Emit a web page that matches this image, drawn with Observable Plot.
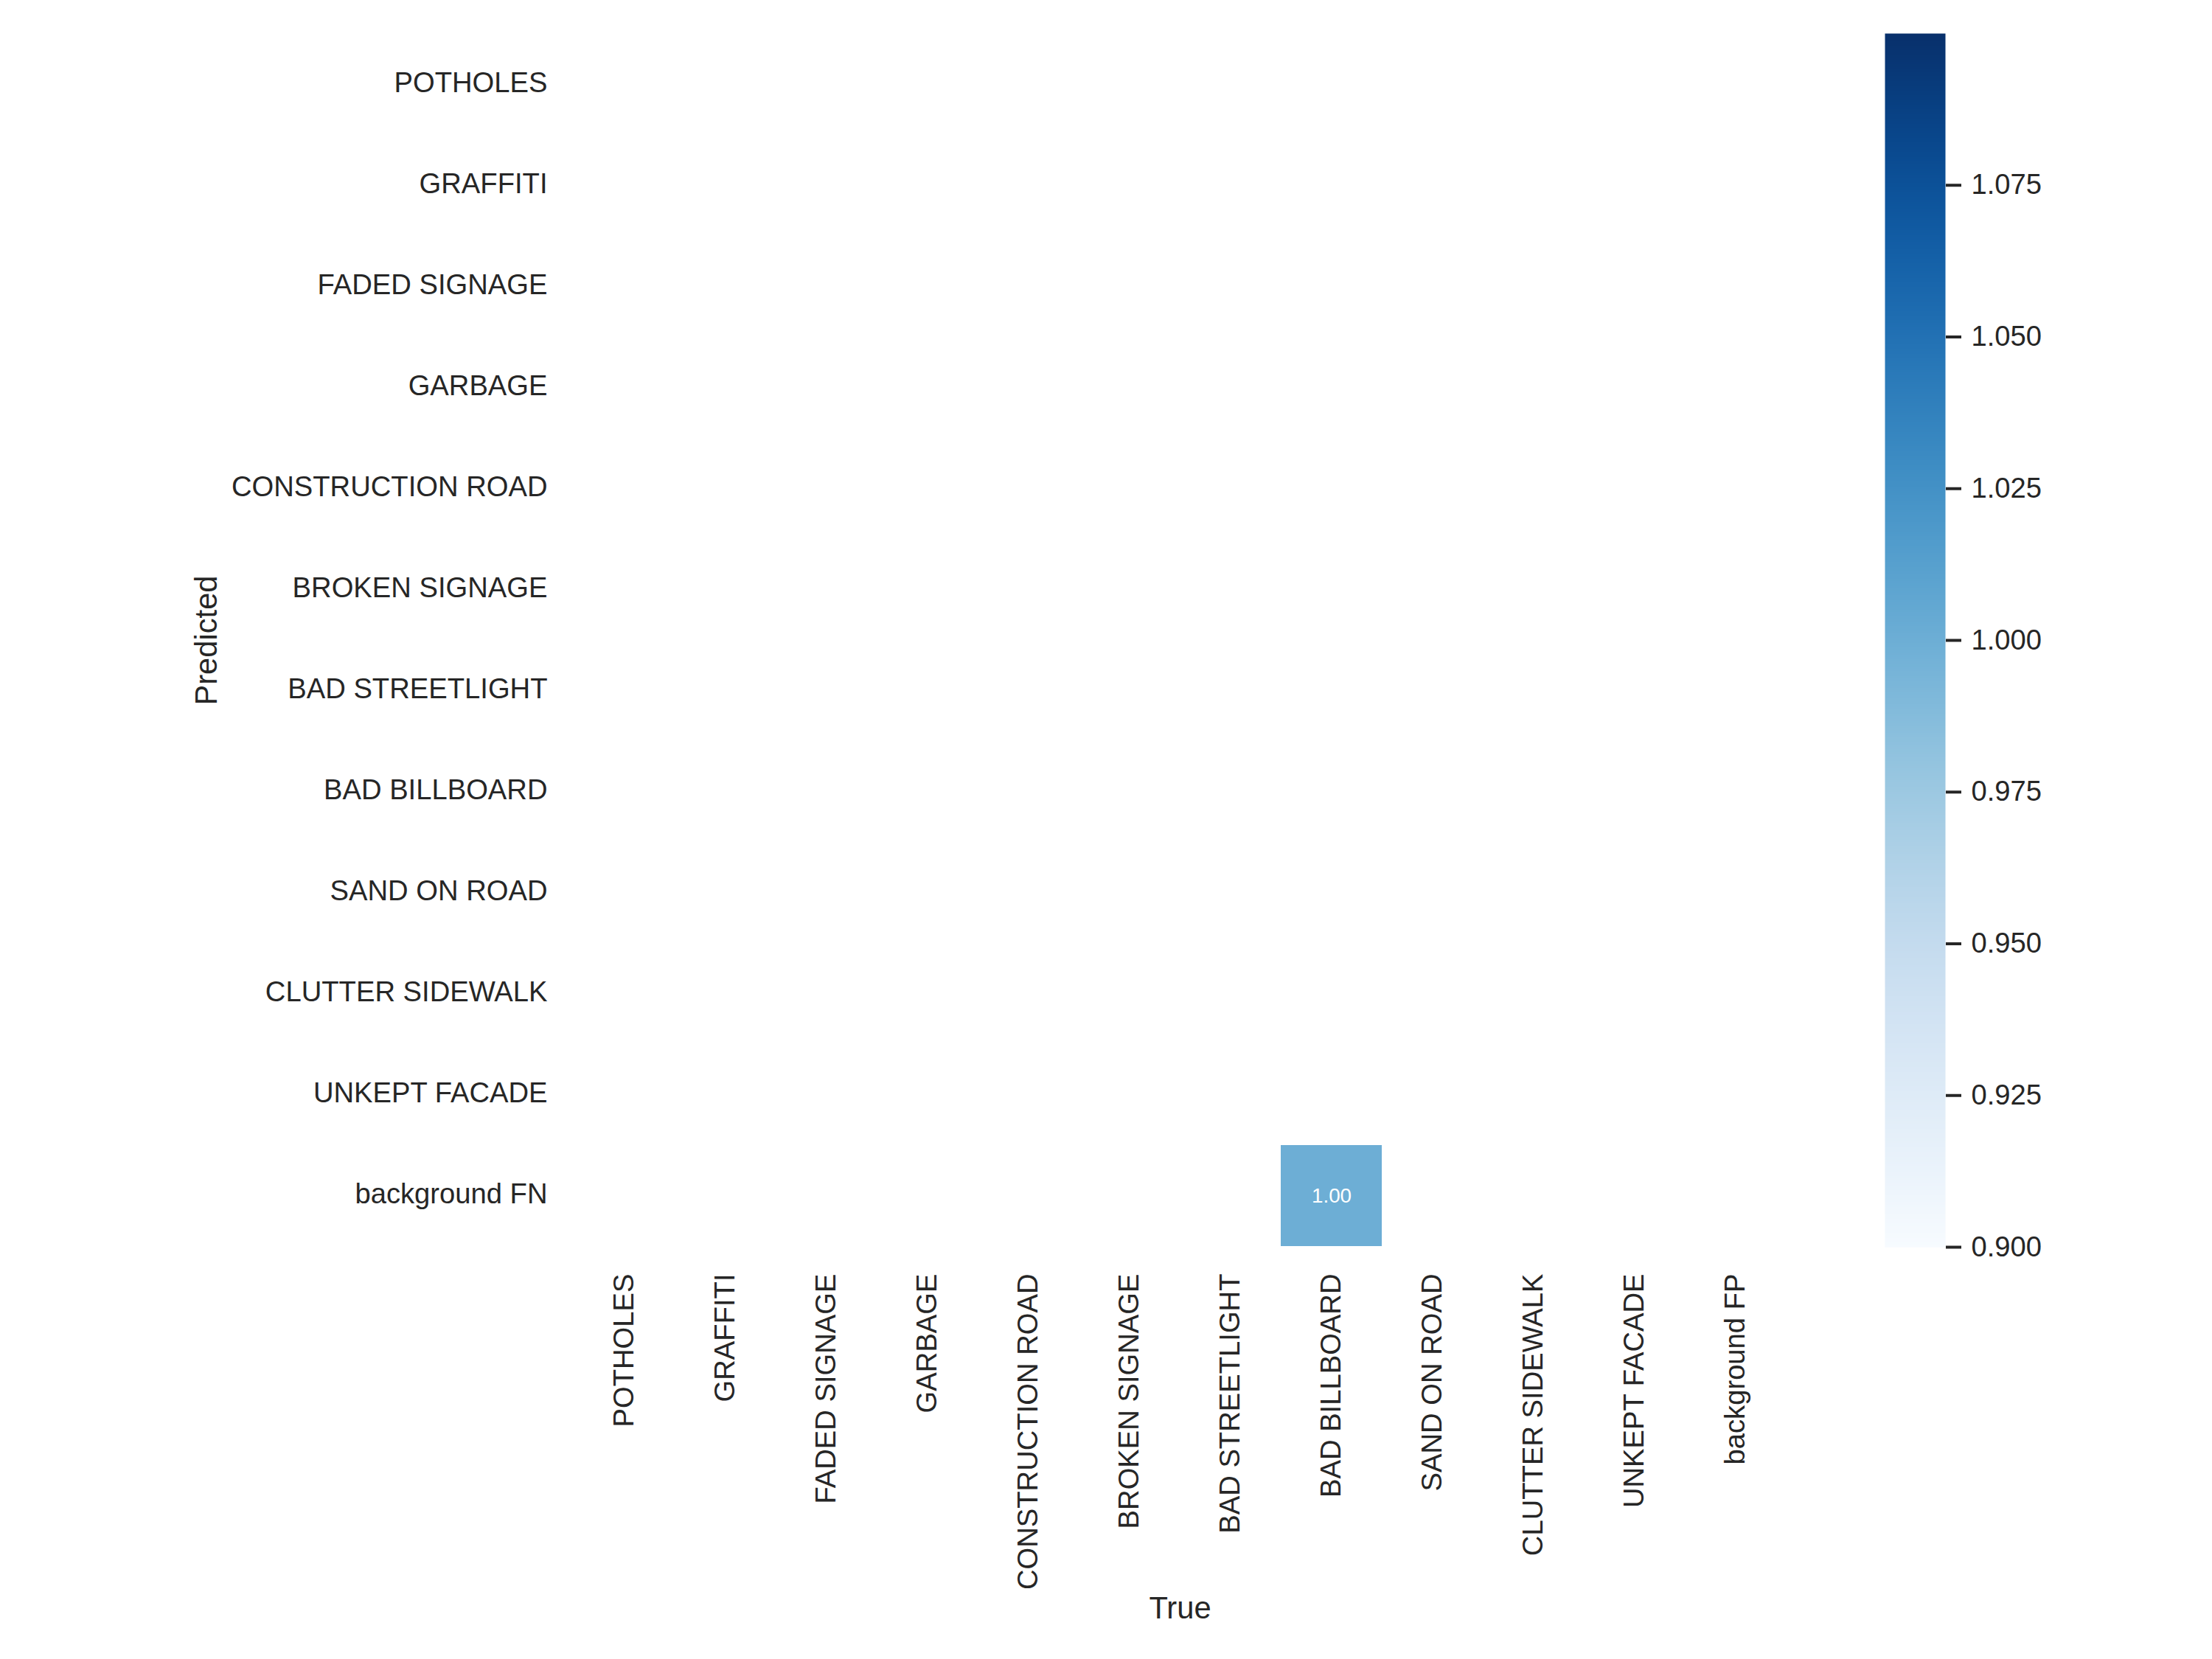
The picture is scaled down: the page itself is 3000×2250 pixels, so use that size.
<!DOCTYPE html>
<html>
<head>
<meta charset="utf-8">
<script src="https://cdn.jsdelivr.net/npm/d3@7"></script>
<script src="https://cdn.jsdelivr.net/npm/@observablehq/plot@0.6"></script>
<style>
  html, body { margin: 0; padding: 0; background: #ffffff; }
  #chart { position: relative; width: 3000px; height: 2250px; background: #ffffff; }
  #chart svg { position: absolute; left: 0; top: 0; }
</style>
</head>
<body>
<div id="chart"></div>
<script>
// ---- data ----
const trueLabels = ["POTHOLES", "GRAFFITI", "FADED SIGNAGE", "GARBAGE", "CONSTRUCTION ROAD", "BROKEN SIGNAGE", "BAD STREETLIGHT", "BAD BILLBOARD", "SAND ON ROAD", "CLUTTER SIDEWALK", "UNKEPT FACADE", "background FP"];
const predictedLabels = ["POTHOLES", "GRAFFITI", "FADED SIGNAGE", "GARBAGE", "CONSTRUCTION ROAD", "BROKEN SIGNAGE", "BAD STREETLIGHT", "BAD BILLBOARD", "SAND ON ROAD", "CLUTTER SIDEWALK", "UNKEPT FACADE", "background FN"];
// rows = predicted, columns = true
const matrix = [
  [0,0,0,0,0,0,0,0,0,0,0,0],
  [0,0,0,0,0,0,0,0,0,0,0,0],
  [0,0,0,0,0,0,0,0,0,0,0,0],
  [0,0,0,0,0,0,0,0,0,0,0,0],
  [0,0,0,0,0,0,0,0,0,0,0,0],
  [0,0,0,0,0,0,0,0,0,0,0,0],
  [0,0,0,0,0,0,0,0,0,0,0,0],
  [0,0,0,0,0,0,0,0,0,0,0,0],
  [0,0,0,0,0,0,0,0,0,0,0,0],
  [0,0,0,0,0,0,0,0,0,0,0,0],
  [0,0,0,0,0,0,0,0,0,0,0,0],
  [0,0,0,0,0,0,0,1.00,0,0,0,0]
];
const colorDomain = [0.9, 1.1];
const colorbarTicks = [0.900, 0.925, 0.950, 0.975, 1.000, 1.025, 1.050, 1.075];

// ---- table (zeros are masked, as in the original) ----
const cells = [];
predictedLabels.forEach((p, i) => {
  trueLabels.forEach((t, j) => {
    const v = matrix[i][j];
    if (v >= 0.005) cells.push({ predicted: p, true: t, value: v });
  });
});

const font = "'Liberation Sans', Arial, Helvetica, sans-serif";
const textColor = "#262626";
const W = 3000, H = 2250;
const frame = { left: 777, right: 2423, top: 45, bottom: 1691 };

const heat = Plot.plot({
  width: W,
  height: H,
  marginLeft: frame.left,
  marginRight: W - frame.right,
  marginTop: frame.top,
  marginBottom: H - frame.bottom,
  style: { fontFamily: font, fontSize: "38.2px", color: textColor, background: "transparent", overflow: "visible" },
  x: { domain: trueLabels, padding: 0, label: null },
  y: { domain: predictedLabels, padding: 0, label: null },
  color: { type: "linear", scheme: "blues", domain: colorDomain },
  marks: [
    Plot.cell(cells, { x: "true", y: "predicted", fill: "value" }),
    Plot.text(cells, { x: "true", y: "predicted", text: d => d3.format(".2f")(d.value), fill: "white", fontSize: 27.8 }),
    Plot.axisX({ anchor: "bottom", tickSize: 0, tickPadding: 36, tickRotate: -90, label: null, fontSize: 38.2 }),
    Plot.axisY({ anchor: "left", tickSize: 0, tickPadding: 35, label: null, fontSize: 38.2, dy: -2 }),
    Plot.text(["Predicted"], { frameAnchor: "left", dx: 280 - frame.left, rotate: -90, textAnchor: "middle", lineAnchor: "middle", fontSize: 41.7, fill: textColor }),
    Plot.text(["True"], { frameAnchor: "bottom", dy: 2181 - frame.bottom, textAnchor: "middle", lineAnchor: "middle", fontSize: 41.7, fill: textColor })
  ]
});

const cbar = { left: 2556, right: 2638 };
const colorbar = Plot.plot({
  width: W,
  height: H,
  marginLeft: cbar.left,
  marginRight: W - cbar.right,
  marginTop: frame.top,
  marginBottom: H - frame.bottom,
  style: { fontFamily: font, fontSize: "38.2px", color: textColor, background: "transparent", overflow: "visible" },
  x: { domain: [0, 1], axis: null },
  y: { domain: colorDomain, label: null },
  color: { type: "linear", scheme: "blues", domain: colorDomain },
  marks: [
    Plot.raster({ x1: 0, x2: 1, y1: colorDomain[0], y2: colorDomain[1], width: 1, height: 512, fill: (x, y) => y, imageRendering: "pixelated" }),
    Plot.axisY({ anchor: "right", ticks: colorbarTicks, tickFormat: d3.format(".3f"), tickSize: 21, tickPadding: 14, strokeWidth: 4, label: null, fontSize: 38.2 })
  ]
});

const chart = document.getElementById("chart");
chart.appendChild(heat);
chart.appendChild(colorbar);
</script>
</body>
</html>
